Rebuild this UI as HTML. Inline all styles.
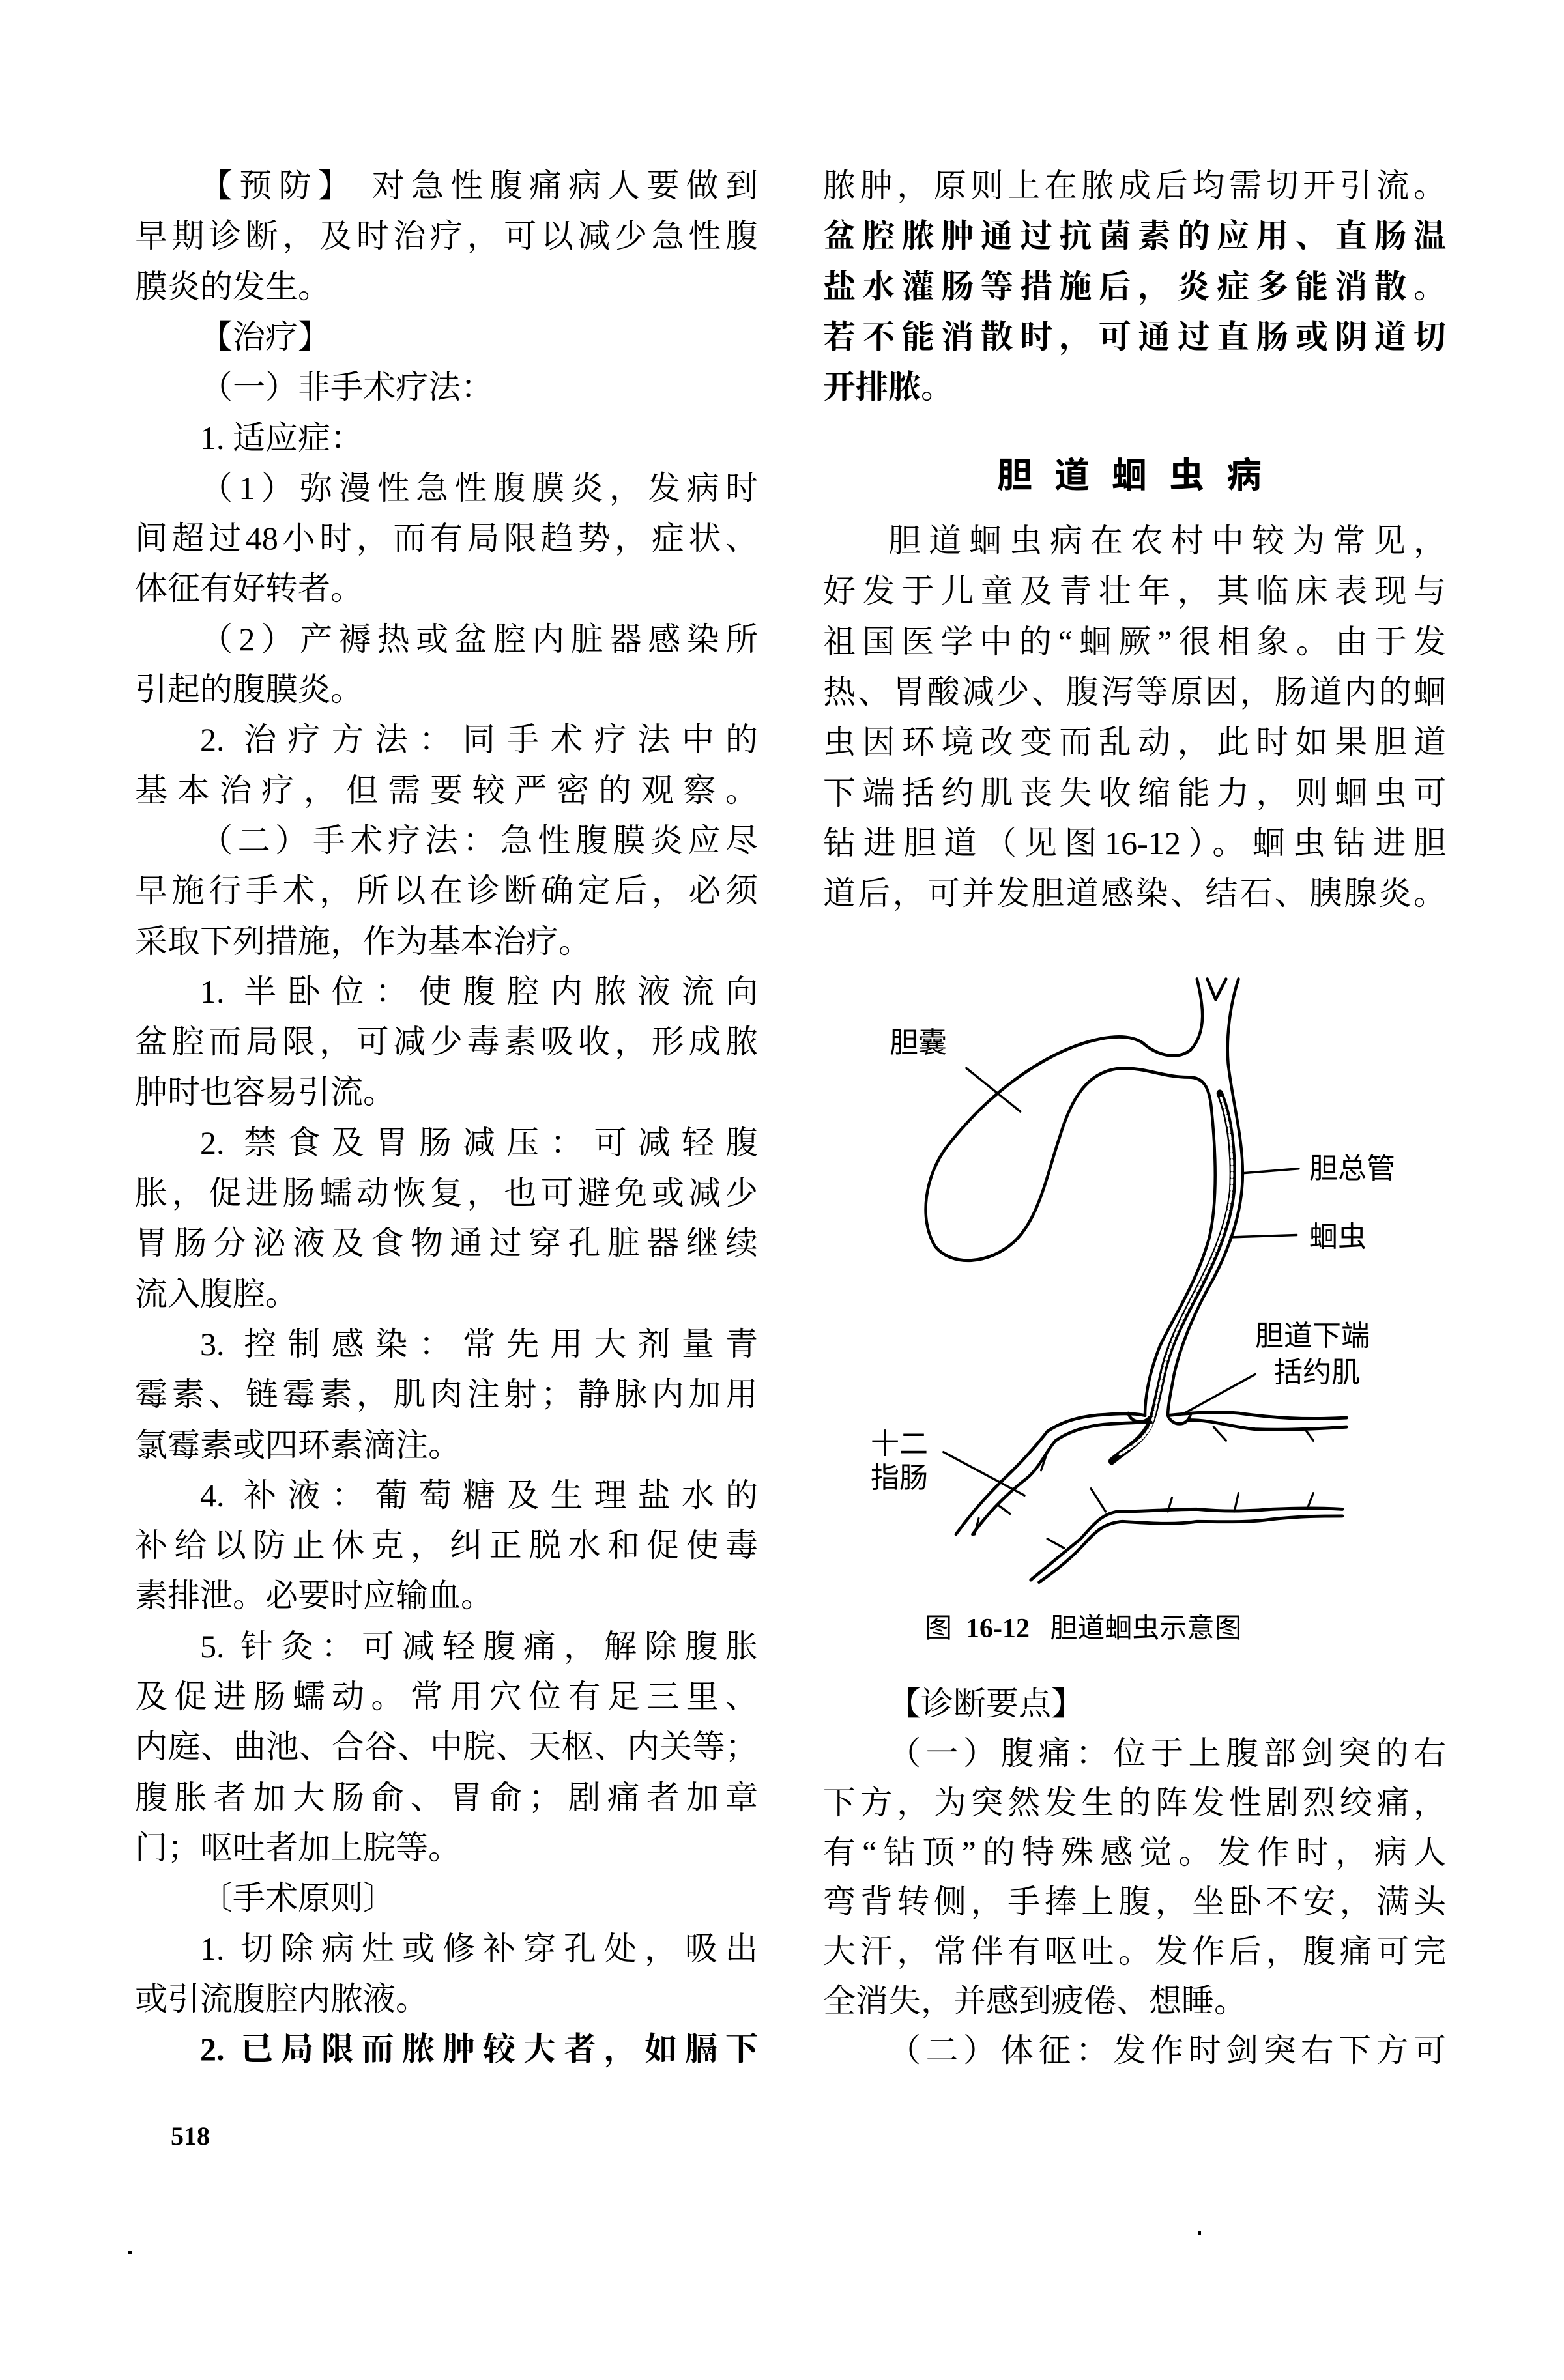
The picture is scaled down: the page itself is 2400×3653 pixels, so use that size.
<!DOCTYPE html>
<html><head><meta charset="utf-8">
<style>
html,body{margin:0;padding:0;background:#fff;}
body{width:2400px;height:3653px;position:relative;overflow:hidden;font-family:"Liberation Serif","Noto Serif CJK SC","Noto Sans CJK SC",serif;color:#000;}
.ln{position:absolute;height:78px;line-height:78px;font-size:50px;white-space:nowrap;}
.L{left:207px;width:956px;}
.R{left:1263px;width:956px;}
.j{text-align:justify;text-align-last:justify;}
.i{left:307px;width:856px;}
.R.i{left:1363px;width:856px;}
.lab{position:absolute;font-size:44px;line-height:44px;white-space:nowrap;font-family:"Noto Sans CJK SC",sans-serif;}
</style></head>
<body>

<div>
<div class="ln L i j" style="top:246px">【预防】 对急性腹痛病人要做到</div>
<div class="ln L j" style="top:323px">早期诊断，及时治疗，可以减少急性腹</div>
<div class="ln L" style="top:401px">膜炎的发生。</div>
<div class="ln L i" style="top:478px">【治疗】</div>
<div class="ln L i" style="top:555px">（一）非手术疗法：</div>
<div class="ln L i" style="top:633px">1. 适应症：</div>
<div class="ln L i j" style="top:710px">（1）弥漫性急性腹膜炎，发病时</div>
<div class="ln L j" style="top:787px">间超过48小时，而有局限趋势，症状、</div>
<div class="ln L" style="top:864px">体征有好转者。</div>
<div class="ln L i j" style="top:942px">（2）产褥热或盆腔内脏器感染所</div>
<div class="ln L" style="top:1019px">引起的腹膜炎。</div>
<div class="ln L i j" style="top:1096px">2. 治疗方法：同手术疗法中的</div>
<div class="ln L j" style="top:1174px">基本治疗，但需要较严密的观察。</div>
<div class="ln L i j" style="top:1251px">（二）手术疗法：急性腹膜炎应尽</div>
<div class="ln L j" style="top:1328px">早施行手术，所以在诊断确定后，必须</div>
<div class="ln L" style="top:1406px">采取下列措施，作为基本治疗。</div>
<div class="ln L i j" style="top:1483px">1. 半卧位：使腹腔内脓液流向</div>
<div class="ln L j" style="top:1560px">盆腔而局限，可减少毒素吸收，形成脓</div>
<div class="ln L" style="top:1637px">肿时也容易引流。</div>
<div class="ln L i j" style="top:1715px">2. 禁食及胃肠减压：可减轻腹</div>
<div class="ln L j" style="top:1792px">胀，促进肠蠕动恢复，也可避免或减少</div>
<div class="ln L j" style="top:1869px">胃肠分泌液及食物通过穿孔脏器继续</div>
<div class="ln L" style="top:1947px">流入腹腔。</div>
<div class="ln L i j" style="top:2024px">3. 控制感染：常先用大剂量青</div>
<div class="ln L j" style="top:2101px">霉素、链霉素，肌肉注射；静脉内加用</div>
<div class="ln L" style="top:2179px">氯霉素或四环素滴注。</div>
<div class="ln L i j" style="top:2256px">4. 补液：葡萄糖及生理盐水的</div>
<div class="ln L j" style="top:2333px">补给以防止休克，纠正脱水和促使毒</div>
<div class="ln L" style="top:2410px">素排泄。必要时应输血。</div>
<div class="ln L i j" style="top:2488px">5. 针灸：可减轻腹痛，解除腹胀</div>
<div class="ln L j" style="top:2565px">及促进肠蠕动。常用穴位有足三里、</div>
<div class="ln L j" style="top:2642px">内庭、曲池、合谷、中脘、天枢、内关等；</div>
<div class="ln L j" style="top:2720px">腹胀者加大肠俞、胃俞；剧痛者加章</div>
<div class="ln L" style="top:2797px">门；呕吐者加上脘等。</div>
<div class="ln L i" style="top:2874px">〔手术原则〕</div>
<div class="ln L i j" style="top:2952px">1. 切除病灶或修补穿孔处，吸出</div>
<div class="ln L" style="top:3029px">或引流腹腔内脓液。</div>
<div class="ln L i j" style="top:3106px;font-weight:bold">2. 已局限而脓肿较大者，如膈下</div>
</div>

<div style="position:absolute;left:262px;top:3255px;font:bold 40px 'Liberation Serif',serif;">518</div>

<div>
<div class="ln R j" style="top:246px">脓肿，原则上在脓成后均需切开引流。</div>
<div class="ln R j" style="top:323px;font-weight:bold">盆腔脓肿通过抗菌素的应用、直肠温</div>
<div class="ln R j" style="top:401px;font-weight:bold">盐水灌肠等措施后，炎症多能消散。</div>
<div class="ln R j" style="top:478px;font-weight:bold">若不能消散时，可通过直肠或阴道切</div>
<div class="ln R" style="top:555px;font-weight:bold">开排脓。</div>

<div style="position:absolute;left:1530px;top:690px;width:406px;height:70px;line-height:70px;font-size:54px;font-weight:bold;text-align:justify;text-align-last:justify;font-family:'Noto Sans CJK SC',sans-serif;">胆道蛔虫病</div>

<div class="ln R i j" style="top:791px">胆道蛔虫病在农村中较为常见，</div>
<div class="ln R j" style="top:868px">好发于儿童及青壮年，其临床表现与</div>
<div class="ln R j" style="top:946px">祖国医学中的“蛔厥”很相象。由于发</div>
<div class="ln R j" style="top:1023px">热、胃酸减少、腹泻等原因，肠道内的蛔</div>
<div class="ln R j" style="top:1100px">虫因环境改变而乱动，此时如果胆道</div>
<div class="ln R j" style="top:1178px">下端括约肌丧失收缩能力，则蛔虫可</div>
<div class="ln R j" style="top:1255px">钻进胆道（见图16-12）。蛔虫钻进胆</div>
<div class="ln R j" style="top:1332px">道后，可并发胆道感染、结石、胰腺炎。</div>

<svg style="position:absolute;left:1250px;top:1450px" width="1000" height="1100" viewBox="0 0 1568 1568" preserveAspectRatio="none">
<g fill="none" stroke="#000" stroke-width="7" stroke-linecap="round" stroke-linejoin="round">
<path d="M945 75 L965 120 L990 75"/>
<path d="M920 75 C935 130 945 190 905 230 C870 255 820 240 790 215 C740 185 640 210 560 250 C460 300 380 370 320 440 C265 505 250 600 290 660 C330 705 420 700 480 650 C540 600 560 500 590 420 C620 330 660 275 740 270 C800 270 840 290 900 290 C935 290 950 310 955 360 C965 450 970 560 950 640 C920 740 860 820 830 880 C800 950 795 1000 795 1030"/>
<path d="M1020 75 C1000 130 990 200 995 260 C1005 340 1030 420 1030 500 C1030 580 1000 660 960 730 C910 810 880 880 865 940 C855 990 850 1010 850 1030"/>
<path stroke-width="16" d="M975 325 C1000 380 1010 460 1005 540 C995 620 960 690 920 760 C880 830 850 880 835 950 C820 1010 815 1040 800 1060 C780 1090 740 1110 715 1130"/>
<path stroke="#fff" stroke-width="6" stroke-dasharray="8 6" d="M978 335 C1000 390 1008 460 1003 540 C993 620 958 690 918 760 C878 830 850 880 835 950 C822 1005 818 1030 808 1055 C790 1085 760 1100 735 1115"/>
<path d="M340 1290 C380 1240 420 1200 460 1165 C500 1130 530 1100 560 1065 C600 1040 650 1030 700 1028 C740 1025 770 1025 795 1030"/>
<path d="M380 1290 C420 1240 460 1205 500 1175 C540 1150 555 1110 580 1085 C620 1060 670 1050 720 1048 C760 1046 790 1045 810 1045"/>
<path d="M850 1030 C900 1025 960 1020 1020 1025 C1100 1035 1180 1040 1280 1035"/>
<path d="M900 1040 C960 1040 1000 1055 1060 1060 C1120 1062 1200 1060 1280 1055"/>
<path d="M520 1390 C560 1360 600 1330 640 1300 C670 1270 690 1245 730 1240 C800 1240 860 1235 920 1235 C980 1240 1040 1240 1100 1235 C1170 1232 1220 1232 1270 1235"/>
<path d="M540 1395 C580 1370 620 1340 650 1310 C680 1280 700 1265 740 1262 C800 1265 860 1270 920 1262 C980 1262 1040 1265 1100 1257 C1170 1250 1220 1250 1270 1250"/>
<path d="M755 1025 C760 1045 790 1050 805 1035"/>
<path d="M850 1030 C860 1055 900 1055 905 1025"/>
<path stroke-width="5" d="M560 1110 L545 1150 M440 1225 L470 1245 M395 1255 L385 1290 M960 1055 L990 1085 M1180 1060 L1200 1085 M665 1190 L700 1240 M860 1210 L850 1240 M1020 1200 L1010 1240 M1200 1200 L1185 1235 M560 1300 L600 1320"/>
<path stroke-width="5" d="M365 270 L495 365"/>
<path stroke-width="5" d="M1030 500 L1165 490"/>
<path stroke-width="5" d="M1000 640 L1160 635"/>
<path stroke-width="5" d="M1060 940 L890 1025"/>
<path stroke-width="5" d="M310 1110 L505 1205"/>
</g>
</svg>
<div class="lab" style="left:1365px;top:1574px">胆囊</div>
<div class="lab" style="left:2009px;top:1767px">胆总管</div>
<div class="lab" style="left:2009px;top:1872px">蛔虫</div>
<div class="lab" style="left:1926px;top:2024px">胆道下端</div>
<div class="lab" style="left:1955px;top:2080px">括约肌</div>
<div class="lab" style="left:1336px;top:2190px">十二</div>
<div class="lab" style="left:1336px;top:2242px">指肠</div>
<div style="position:absolute;left:1419px;top:2478px;width:631px;font-size:42px;line-height:44px;white-space:nowrap;font-family:'Liberation Serif','Noto Sans CJK SC',sans-serif;">图&nbsp; <b>16-12</b> &nbsp; 胆道蛔虫示意图</div>

<div class="ln R i" style="top:2576px">【诊断要点】</div>
<div class="ln R i j" style="top:2652px">（一）腹痛：位于上腹部剑突的右</div>
<div class="ln R j" style="top:2728px">下方，为突然发生的阵发性剧烈绞痛，</div>
<div class="ln R j" style="top:2804px">有“钻顶”的特殊感觉。发作时，病人</div>
<div class="ln R j" style="top:2880px">弯背转侧，手捧上腹，坐卧不安，满头</div>
<div class="ln R j" style="top:2956px">大汗，常伴有呕吐。发作后，腹痛可完</div>
<div class="ln R" style="top:3032px">全消失，并感到疲倦、想睡。</div>
<div class="ln R i j" style="top:3108px">（二）体征：发作时剑突右下方可</div>
</div>

<div style="position:absolute;left:197px;top:3455px;width:5px;height:5px;background:#000"></div>
<div style="position:absolute;left:1838px;top:3425px;width:5px;height:5px;background:#000"></div>
</body></html>
